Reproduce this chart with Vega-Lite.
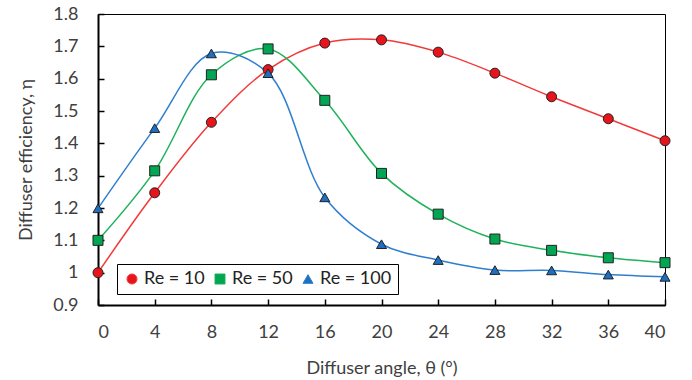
{
  "$schema": "https://vega.github.io/schema/vega-lite/v6.json",
  "width": 567,
  "height": 291,
  "autosize": "none",
  "padding": {"left": 98, "top": 14, "right": 27, "bottom": 75},
  "background": "white",
  "config": {
    "font": "Lato",
    "view": {"stroke": "#000", "strokeWidth": 1},
    "axis": {"grid": false, "labelFont": "Lato", "titleFont": "Lato", "labelFontSize": 18, "titleFontSize": 18, "labelColor": "#404040", "titleColor": "#404040", "titleFontWeight": "normal", "domainColor": "#000", "domainWidth": 2, "tickColor": "#000", "tickWidth": 1.5}
  },
  "data": {"values": [
    {"theta": 0, "eta": 1.0, "series": "Re = 10"},
    {"theta": 4, "eta": 1.247, "series": "Re = 10"},
    {"theta": 8, "eta": 1.465, "series": "Re = 10"},
    {"theta": 12, "eta": 1.628, "series": "Re = 10"},
    {"theta": 16, "eta": 1.710, "series": "Re = 10"},
    {"theta": 20, "eta": 1.720, "series": "Re = 10"},
    {"theta": 24, "eta": 1.682, "series": "Re = 10"},
    {"theta": 28, "eta": 1.617, "series": "Re = 10"},
    {"theta": 32, "eta": 1.544, "series": "Re = 10"},
    {"theta": 36, "eta": 1.476, "series": "Re = 10"},
    {"theta": 40, "eta": 1.408, "series": "Re = 10"},
    {"theta": 0, "eta": 1.10, "series": "Re = 50"},
    {"theta": 4, "eta": 1.315, "series": "Re = 50"},
    {"theta": 8, "eta": 1.612, "series": "Re = 50"},
    {"theta": 12, "eta": 1.692, "series": "Re = 50"},
    {"theta": 16, "eta": 1.533, "series": "Re = 50"},
    {"theta": 20, "eta": 1.307, "series": "Re = 50"},
    {"theta": 24, "eta": 1.181, "series": "Re = 50"},
    {"theta": 28, "eta": 1.104, "series": "Re = 50"},
    {"theta": 32, "eta": 1.069, "series": "Re = 50"},
    {"theta": 36, "eta": 1.046, "series": "Re = 50"},
    {"theta": 40, "eta": 1.031, "series": "Re = 50"},
    {"theta": 0, "eta": 1.199, "series": "Re = 100"},
    {"theta": 4, "eta": 1.447, "series": "Re = 100"},
    {"theta": 8, "eta": 1.678, "series": "Re = 100"},
    {"theta": 12, "eta": 1.617, "series": "Re = 100"},
    {"theta": 16, "eta": 1.233, "series": "Re = 100"},
    {"theta": 20, "eta": 1.088, "series": "Re = 100"},
    {"theta": 24, "eta": 1.039, "series": "Re = 100"},
    {"theta": 28, "eta": 1.008, "series": "Re = 100"},
    {"theta": 32, "eta": 1.007, "series": "Re = 100"},
    {"theta": 36, "eta": 0.994, "series": "Re = 100"},
    {"theta": 40, "eta": 0.987, "series": "Re = 100"}
  ]},
  "encoding": {
    "x": {"field": "theta", "type": "quantitative", "scale": {"domain": [0, 40], "nice": false, "zero": false},
      "axis": {"title": "Diffuser angle, θ (°)", "values": [0,4,8,12,16,20,24,28,32,36,40], "tickSize": -6, "labelPadding": 24, "titlePadding": 18}},
    "y": {"field": "eta", "type": "quantitative", "scale": {"domain": [0.9, 1.8], "nice": false, "zero": false},
      "axis": {"title": "Diffuser efficiency, η", "values": [0.9,1.0,1.1,1.2,1.3,1.4,1.5,1.6,1.7,1.8], "labelExpr": "format(datum.value, '.1~f')", "tickSize": -6, "labelPadding": 26, "titlePadding": 17}}
  },
  "layer": [
    {
      "mark": {"type": "line", "interpolate": "catmull-rom", "strokeWidth": 1.5, "clip": false},
      "encoding": {
        "stroke": {"field": "series", "type": "nominal", "title": null, "scale": {"domain": ["Re = 10", "Re = 50", "Re = 100"], "range": ["#f23a3a", "#1fb25a", "#2f7fcf"]}}
      }
    },
    {
      "mark": {"type": "point", "filled": true, "size": 100, "stroke": "#222", "strokeWidth": 1, "opacity": 1},
      "encoding": {
        "fill": {"field": "series", "type": "nominal", "title": null, "scale": {"domain": ["Re = 10", "Re = 50", "Re = 100"], "range": ["#e8141b", "#00a651", "#1f6fc0"]},
          "legend": {"title": null, "orient": "none", "direction": "horizontal", "legendX": 19, "legendY": 250, "strokeColor": "#000", "fillColor": "white", "padding": 6, "labelFontSize": 18, "labelFont": "Lato", "labelColor": "#222", "symbolSize": 100, "symbolStrokeColor": "#222", "symbolStrokeWidth": 1, "columnPadding": 6, "labelOffset": 3,
            "encode": {"symbols": {"update": {"stroke": {"value": "#222"}, "strokeWidth": {"value": 1}}}}}},
        "shape": {"field": "series", "type": "nominal", "title": null, "scale": {"domain": ["Re = 10", "Re = 50", "Re = 100"], "range": ["circle", "square", "triangle-up"]}}
      }
    }
  ]
}
